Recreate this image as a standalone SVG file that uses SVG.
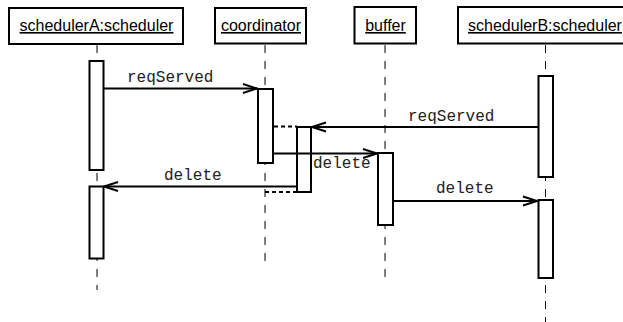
<svg xmlns="http://www.w3.org/2000/svg" width="623" height="322" viewBox="0 0 623 322">
  <style>
    .box { fill: #fff; stroke: #000; stroke-width: 2; }
    .name { font-family: "Liberation Sans", Arial, sans-serif; font-size: 16px; fill: #000; text-anchor: middle; text-decoration: underline; }
    .life { stroke: #000; stroke-width: 1; stroke-dasharray: 8 8; fill: none; }
    .act { fill: #fff; stroke: #000; stroke-width: 2; }
    .msg { stroke: #000; stroke-width: 2; fill: none; marker-end: url(#open); }
    .ret { stroke: #000; stroke-width: 2; stroke-dasharray: 4 3; fill: none; }
    .lbl { font-family: "Liberation Mono", "Courier New", monospace; font-size: 16px; fill: #222; }
  </style>
  <defs>
    <marker id="open" markerUnits="userSpaceOnUse" markerWidth="20" markerHeight="14" viewBox="-15 -7 17 14" refX="0" refY="0" orient="auto" overflow="visible">
      <path d="M-14,-4.5 L0,0 L-14,4.5" fill="none" stroke="#000" stroke-width="2"/>
    </marker>
  </defs>

  <rect width="623" height="322" fill="#fff"/>

  <!-- lifelines -->
  <g id="lifelines">
    <line class="life" x1="97" y1="45" x2="97" y2="290"/>
    <line class="life" x1="265" y1="45" x2="265" y2="263"/>
    <line class="life" x1="385" y1="45" x2="385" y2="278"/>
    <line class="life" x1="545.5" y1="45" x2="545.5" y2="322"/>
  </g>

  <g id="schedulerA">
    <rect class="box" x="9" y="8" width="174" height="36"/>
    <text class="name" x="96.5" y="31">schedulerA:scheduler</text>
    <rect class="act" x="89.5" y="61" width="14" height="109"/>
    <rect class="act" x="89.5" y="186.5" width="14" height="72"/>
  </g>

  <g id="coordinator">
    <rect class="box" x="215" y="8" width="91" height="35.5"/>
    <text class="name" x="261" y="31">coordinator</text>
    <rect class="act" x="258" y="89" width="15" height="74"/>
    <rect class="act" x="297" y="127" width="14" height="65"/>
  </g>

  <g id="buffer">
    <rect class="box" x="354.5" y="7" width="61.5" height="36.5"/>
    <text class="name" x="385.5" y="31">buffer</text>
    <rect class="act" x="378" y="153" width="15" height="72"/>
  </g>

  <g id="schedulerB">
    <rect class="box" x="458" y="7" width="175" height="36.5"/>
    <text class="name" x="545" y="31">schedulerB:scheduler</text>
    <rect class="act" x="538.5" y="76" width="14.5" height="101"/>
    <rect class="act" x="538.5" y="200" width="14.5" height="78"/>
  </g>

  <!-- messages and returns -->
  <g id="connectors">
    <line class="msg" x1="104" y1="88.5" x2="257" y2="88.5"/>
    <line class="ret" x1="274" y1="126.5" x2="297" y2="126.5"/>
    <line class="msg" x1="538" y1="127" x2="312" y2="127"/>
    <line class="msg" x1="273" y1="153.5" x2="377" y2="153.5"/>
    <line class="msg" x1="297" y1="186.5" x2="104" y2="186.5"/>
    <line class="ret" x1="265" y1="192" x2="296" y2="192"/>
    <line class="msg" x1="393" y1="201" x2="537" y2="201"/>
  </g>

  <g id="labels">
    <text class="lbl" x="127" y="82">reqServed</text>
    <text class="lbl" x="408" y="121">reqServed</text>
    <text class="lbl" x="313" y="168">delete</text>
    <text class="lbl" x="164" y="180">delete</text>
    <text class="lbl" x="436" y="193">delete</text>
  </g>
</svg>
